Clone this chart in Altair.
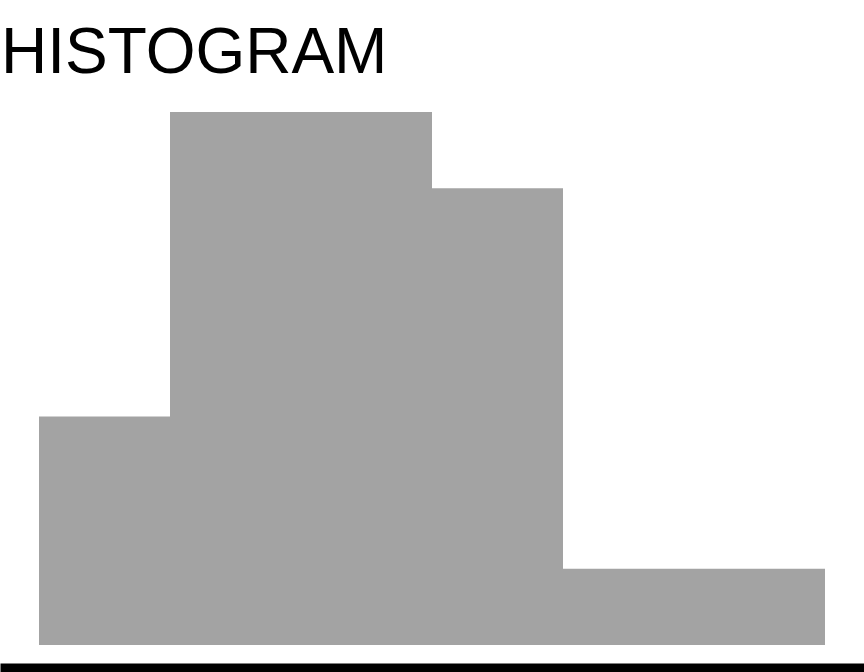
import altair as alt
import pandas as pd

bin_start = [0, 1, 2, 3, 4, 5]
bin_end = [1, 2, 3, 4, 5, 6]
counts = [3, 7, 7, 6, 1, 1]

df = pd.DataFrame({"bin_start": bin_start, "bin_end": bin_end, "count": counts})

chart = (
    alt.Chart(df)
    .mark_rect(color="#a3a3a3")
    .encode(
        x=alt.X(
            "bin_start:Q",
            scale=alt.Scale(domain=[0, 6], padding=39, nice=False, zero=False),
            axis=alt.Axis(labels=False, ticks=False, grid=False, title=None,
                          domainColor="black", domainWidth=18),
        ),
        x2="bin_end:Q",
        y=alt.Y("count:Q", scale=alt.Scale(domain=[0, 7], range=[533, 0], nice=False),
                axis=None),
        y2=alt.datum(0),
    )
    .properties(
        width=864,
        height=560,
        title=alt.TitleParams("HISTOGRAM", anchor="start", fontSize=64, font="Liberation Sans",
                              fontWeight="normal", color="black", offset=26, dx=1),
        padding={"left": 0, "top": 112, "right": 0, "bottom": 0},
        autosize=alt.AutoSizeParams(type="none"),
    )
    .configure_view(stroke=None)
)

chart.save("out.html", embed_options={"renderer": "svg", "actions": False})
